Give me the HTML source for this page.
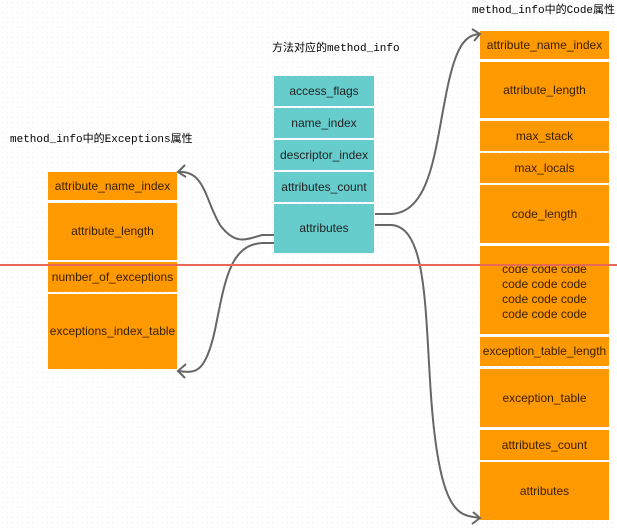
<!DOCTYPE html>
<html><head><meta charset="utf-8"><style>
body{margin:0;width:617px;height:529px;overflow:hidden;background:#fff;
background-image:radial-gradient(circle,#ececec 0.6px,transparent 0.8px);background-size:5px 5px;
font-family:"Liberation Sans","Noto Sans CJK SC",sans-serif;position:relative}
.b{position:absolute;display:flex;align-items:center;justify-content:center;text-align:center;font-size:12px;color:#222;line-height:15px}
.t{background:#66cccc}
.o{background:#ff9900;color:#3a2000}
.l{position:absolute;font-family:"Liberation Mono","Noto Sans CJK SC",monospace;font-size:11px;color:#000;white-space:nowrap}
</style></head><body>
<div class="l" style="left:272px;top:39px">方法对应的method_info</div>
<div class="l" style="left:10px;top:130px">method_info中的Exceptions属性</div>
<div class="l" style="left:472px;top:1px">method_info中的Code属性</div>

<div class="b t" style="left:274px;top:76px;width:100px;height:30px">access_flags</div>
<div class="b t" style="left:274px;top:108px;width:100px;height:30px">name_index</div>
<div class="b t" style="left:274px;top:140px;width:100px;height:30px">descriptor_index</div>
<div class="b t" style="left:274px;top:172px;width:100px;height:30px">attributes_count</div>
<div class="b t" style="left:274px;top:204px;width:100px;height:49px">attributes</div>

<div class="b o" style="left:48px;top:172px;width:129px;height:28px">attribute_name_index</div>
<div class="b o" style="left:48px;top:203px;width:129px;height:57px">attribute_length</div>
<div class="b o" style="left:48px;top:262px;width:129px;height:30px">number_of_exceptions</div>
<div class="b o" style="left:48px;top:294px;width:129px;height:75px">exceptions_index_table</div>

<div class="b o" style="left:480px;top:31px;width:129px;height:28px">attribute_name_index</div>
<div class="b o" style="left:480px;top:62px;width:129px;height:56px">attribute_length</div>
<div class="b o" style="left:480px;top:121px;width:129px;height:30px">max_stack</div>
<div class="b o" style="left:480px;top:153px;width:129px;height:30px">max_locals</div>
<div class="b o" style="left:480px;top:185px;width:129px;height:58px">code_length</div>
<div class="b o" style="left:480px;top:246px;width:129px;height:88px;align-items:flex-start;padding-top:16px;box-sizing:border-box">code code code<br>code code code<br>code code code<br>code code code</div>
<div class="b o" style="left:480px;top:337px;width:129px;height:29px">exception_table_length</div>
<div class="b o" style="left:480px;top:369px;width:129px;height:58px">exception_table</div>
<div class="b o" style="left:480px;top:430px;width:129px;height:30px">attributes_count</div>
<div class="b o" style="left:480px;top:462px;width:129px;height:58px">attributes</div>

<svg style="position:absolute;left:0;top:0" width="617" height="529">
<g fill="none" stroke="#666" stroke-width="2">
<path d="M274 235 L262 235 C245 240 235 245 220 225 C205 200 205 170 178 172"/>
<path d="M185 165 L178 172 L186 177"/>
<path d="M274 243 L262 243 C230 245 225 280 215 330 C205 375 195 373 178 371"/>
<path d="M186 364 L178 371 L185 378"/>
<path d="M375 214 L390 214 C430 214 435 150 445 100 C455 45 465 35 480 34"/>
<path d="M472 29 L480 34 L474 41"/>
<path d="M375 225 L390 225 C425 225 425 300 430 380 C438 520 460 515 480 518"/>
<path d="M473 512 L480 518 L472 524"/>
</g>
<line x1="0" y1="265" x2="617" y2="265" stroke="#e86a55" stroke-width="2"/>
</svg>
</body></html>
